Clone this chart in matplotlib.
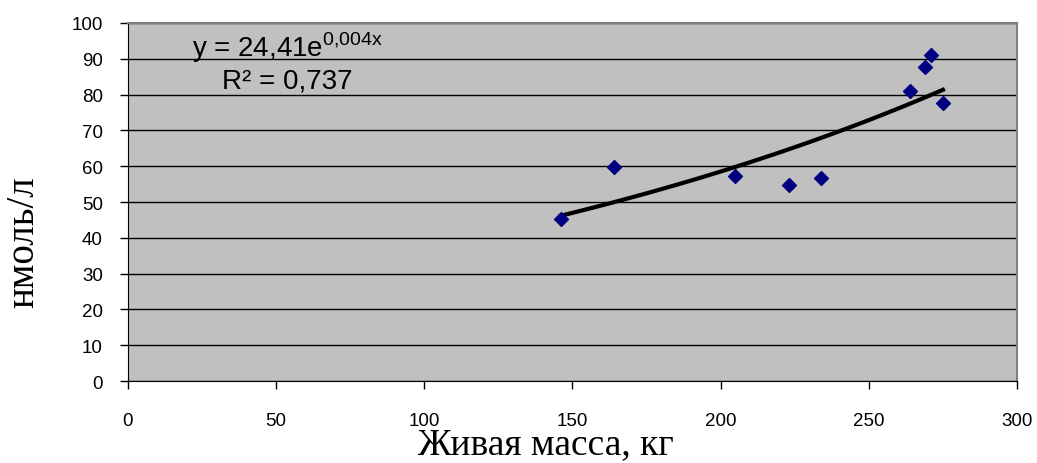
import numpy as np
import matplotlib
matplotlib.use("Agg")
import matplotlib.pyplot as plt

# live weight, kg and concentration, nmol/l
mass = [146, 164, 205, 223, 234, 264, 269, 271, 275]
conc = [45.3, 59.8, 57.3, 54.7, 56.7, 81.0, 87.7, 91.1, 77.7]
eq_text = "y = 24,41e$^{\\mathrm{0{,}004x}}$"
r2_text = "R² = 0,737"
x_label = "Живая масса, кг"
y_label = "нмоль/л"

plt.rcParams['font.family'] = ['Liberation Sans', 'DejaVu Sans']
plt.rcParams['mathtext.fontset'] = 'custom'
plt.rcParams['mathtext.rm'] = 'Liberation Sans'

W, H = 1037, 464
fig = plt.figure(figsize=(W / 100, H / 100), dpi=100)
ax = fig.add_axes([0.1234, 0.1767, 0.8573, 0.7716])
ax.set_facecolor("#c0c0c0")

# exponential trend fitted on the data
b, ln_a = np.polyfit(mass, np.log(conc), 1)
xs = np.linspace(min(mass), max(mass), 100)
ax.plot(xs, np.exp(ln_a) * np.exp(b * xs), color="black", lw=3, zorder=3)

ax.scatter(mass, conc, marker="D", s=50, color="#000080", zorder=4)

ax.set_xlim(0, 300)
ax.set_ylim(0, 100)
ax.set_xticks(range(0, 301, 50))
ax.set_yticks(range(0, 101, 10))
ax.yaxis.grid(True, color="black", lw=1)
ax.set_axisbelow(True)
ax.tick_params(direction="out", length=6, width=1, labelsize=13.5, color="black")
ax.tick_params(axis="x", pad=16)
ax.tick_params(axis="y", pad=12)
for s in ["top", "right"]:
    ax.spines[s].set_color("#808080")
    ax.spines[s].set_linewidth(1.5)
for s in ["left", "bottom"]:
    ax.spines[s].set_color("black")

fig.text(545 / W, 1 - 445 / H, x_label, family=["Liberation Serif"],
         fontsize=27, ha="center", va="center")
fig.text(24 / W, 1 - 242 / H, y_label, family=["Liberation Serif"],
         fontsize=28, ha="center", va="center", rotation=90)

ax.text(53.7, 90.8, eq_text, fontsize=20, ha="center", va="baseline")
ax.text(53.7, 82.1, r2_text, fontsize=20, ha="center", va="baseline")

fig.savefig("out.png", dpi=100)
